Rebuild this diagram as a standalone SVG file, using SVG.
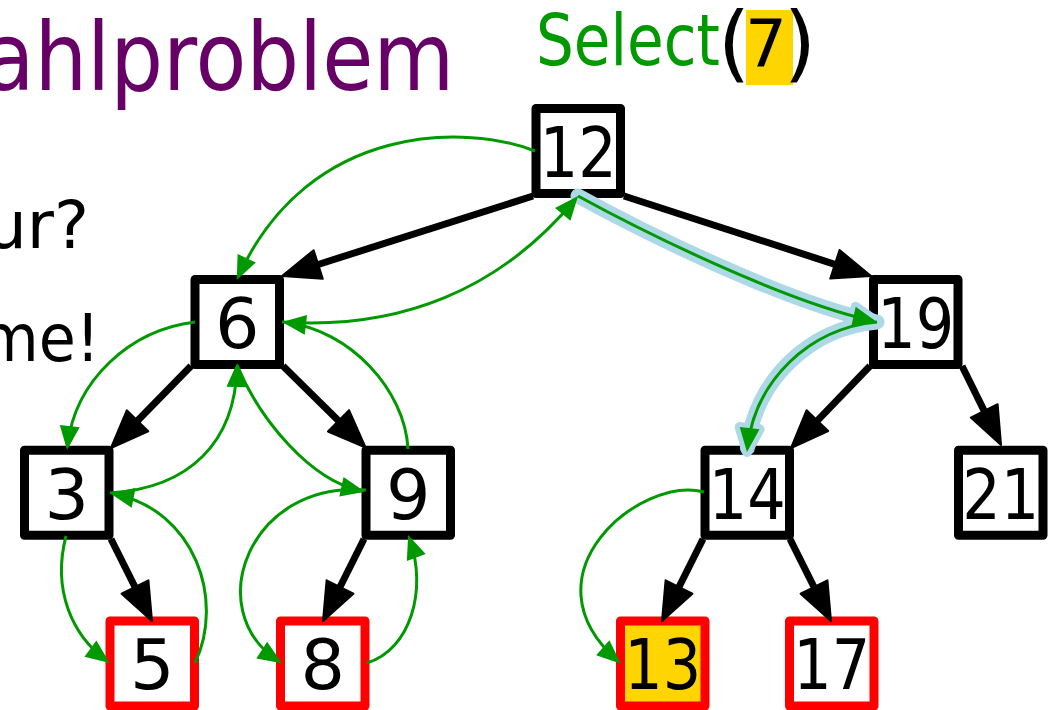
<svg xmlns="http://www.w3.org/2000/svg" width="1048" height="710" viewBox="0 0 1048 710">
<style>
text{font-family:"DejaVu Sans","Liberation Sans",sans-serif}
.num{font-size:70px;text-anchor:middle;fill:#000}
.box{fill:#fff;stroke:#000;stroke-width:9;stroke-linejoin:round}
.leaf{fill:#fff;stroke:#f00;stroke-width:9;stroke-linejoin:round}
.edge{fill:none;stroke:#000;stroke-width:7;marker-end:url(#ab)}
.tour{fill:none;stroke:#009900;stroke-width:3;marker-end:url(#ag)}
.hl{fill:none;stroke:#add8e6;stroke-width:15;stroke-linecap:round;stroke-linejoin:round;marker-end:url(#ah)}
</style>
<defs>
<marker id="ab" markerUnits="userSpaceOnUse" viewBox="-2 -17 42 34" markerWidth="42" markerHeight="34" refX="0" refY="0" orient="auto" overflow="visible">
<path d="M0,-15 L38,0 L0,15 z" fill="#000" stroke="#000" stroke-width="2" stroke-linejoin="round"/>
</marker>
<marker id="ag" markerUnits="userSpaceOnUse" viewBox="0 -11 26 22" markerWidth="26" markerHeight="22" refX="20" refY="0" orient="auto" overflow="visible">
<path d="M0,-10 L24,0 L0,10 z" fill="#009900"/>
</marker>
<marker id="ah" markerUnits="userSpaceOnUse" viewBox="0 -11 26 22" markerWidth="26" markerHeight="22" refX="20" refY="0" orient="auto" overflow="visible">
<path d="M0,-10 L24,0 L0,10 z" fill="#add8e6" stroke="#add8e6" stroke-width="10" stroke-linejoin="round"/>
</marker>
</defs>
<rect width="1048" height="710" fill="#fff"/>
<g id="texts">
<text x="-16.6" y="90" font-size="95" fill="#660066" textLength="471" lengthAdjust="spacingAndGlyphs">ahlproblem</text>
<text x="-15" y="248" font-size="66" fill="#000">ur?</text>
<text x="-20" y="361" font-size="66" fill="#000" textLength="120" lengthAdjust="spacingAndGlyphs">me!</text>
<text x="536" y="65" font-size="71" fill="#009900" textLength="184" lengthAdjust="spacingAndGlyphs">Select</text>
<rect x="746" y="10" width="47" height="75" fill="#ffd500"/>
<text x="734" y="72" font-size="83" fill="#000" text-anchor="middle">(</text>
<text x="766" y="67" font-size="66" fill="#000" text-anchor="middle">7</text>
<text x="800" y="72" font-size="83" fill="#000" text-anchor="middle">)</text>
</g>
<g id="n12"><rect class="box" x="536" y="108.5" width="84.5" height="85"/><text class="num" x="578.3" y="177" textLength="77" lengthAdjust="spacingAndGlyphs">12</text></g>
<g id="n6"><rect class="box" x="195" y="279.5" width="84.5" height="85"/><text class="num" x="237.3" y="348">6</text></g>
<g id="n19"><rect class="box" x="873.5" y="279.5" width="84.5" height="85"/><text class="num" x="915.8" y="348" textLength="77" lengthAdjust="spacingAndGlyphs">19</text></g>
<g id="n3"><rect class="box" x="24.5" y="450.3" width="84.5" height="85"/><text class="num" x="66.8" y="518.5">3</text></g>
<g id="n9"><rect class="box" x="366" y="450.3" width="84.5" height="85"/><text class="num" x="408.3" y="518.5">9</text></g>
<g id="n14"><rect class="box" x="705" y="450.3" width="84.5" height="85"/><text class="num" x="747.3" y="518.5" textLength="77" lengthAdjust="spacingAndGlyphs">14</text></g>
<g id="n21"><rect class="box" x="958.5" y="450.3" width="84.5" height="85"/><text class="num" x="1000.8" y="518.5" textLength="77" lengthAdjust="spacingAndGlyphs">21</text></g>
<g id="n5"><rect class="leaf" x="110" y="621" width="84.5" height="85"/><text class="num" x="152.3" y="689.3">5</text></g>
<g id="n8"><rect class="leaf" x="280.5" y="621" width="84.5" height="85"/><text class="num" x="322.8" y="689.3">8</text></g>
<g id="n13"><rect class="leaf" x="620.5" y="621" width="84.5" height="85" style="fill:#ffd500"/><text class="num" x="662.8" y="689.3" textLength="77" lengthAdjust="spacingAndGlyphs">13</text></g>
<g id="n17"><rect class="leaf" x="789.5" y="621" width="84.5" height="85"/><text class="num" x="831.8" y="689.3" textLength="77" lengthAdjust="spacingAndGlyphs">17</text></g>
<g id="connectors">
<g id="tree-edges">
<path class="edge" d="M533,196 L318.2,264.5"/>
<path class="edge" d="M624,196 L834.9,264.3"/>
<path class="edge" d="M191,366 L137.5,420.8"/>
<path class="edge" d="M283,366 L338.5,420.8"/>
<path class="edge" d="M111,539 L135,587"/>
<path class="edge" d="M364,539 L340,587"/>
<path class="edge" d="M870,366 L817.4,420.6"/>
<path class="edge" d="M962,366 L984.2,410.9"/>
<path class="edge" d="M703,539 L679,587"/>
<path class="edge" d="M790,539 L814,587"/>
</g>
<g id="highlight">
<path class="hl" d="M578,196 C640,230 780,300 873,321"/>
<path class="hl" d="M877,322 C810,328 755,380 747.4,448"/>
</g>
<g id="tour">
<path class="tour" d="M535,151 C470,125 310,120 238.4,276.4"/>
<path class="tour" d="M282,322 C400,330 500,290 575.5,199"/>
<path class="tour" d="M578,196 C640,230 780,300 873,321"/>
<path class="tour" d="M877,322 C810,328 755,380 747.4,448"/>
<path class="tour" d="M195,322 C130,330 75,380 67.5,446"/>
<path class="tour" d="M110,493 C190,488 235,442 237,367"/>
<path class="tour" d="M237,365 C260,420 310,480 361,491"/>
<path class="tour" d="M408,449 C405,390 350,330 286,322.5"/>
<path class="tour" d="M66,536 C52,590 72,635 106.5,660.5"/>
<path class="tour" d="M195,663 C225,600 195,510 114,494"/>
<path class="tour" d="M366,490 C250,480 200,610 278.5,661"/>
<path class="tour" d="M367,663 C410,650 428,590 409.5,538.7"/>
<path class="tour" d="M704,492 C640,475 520,575 617.8,661"/>
</g>
</g>
</svg>
